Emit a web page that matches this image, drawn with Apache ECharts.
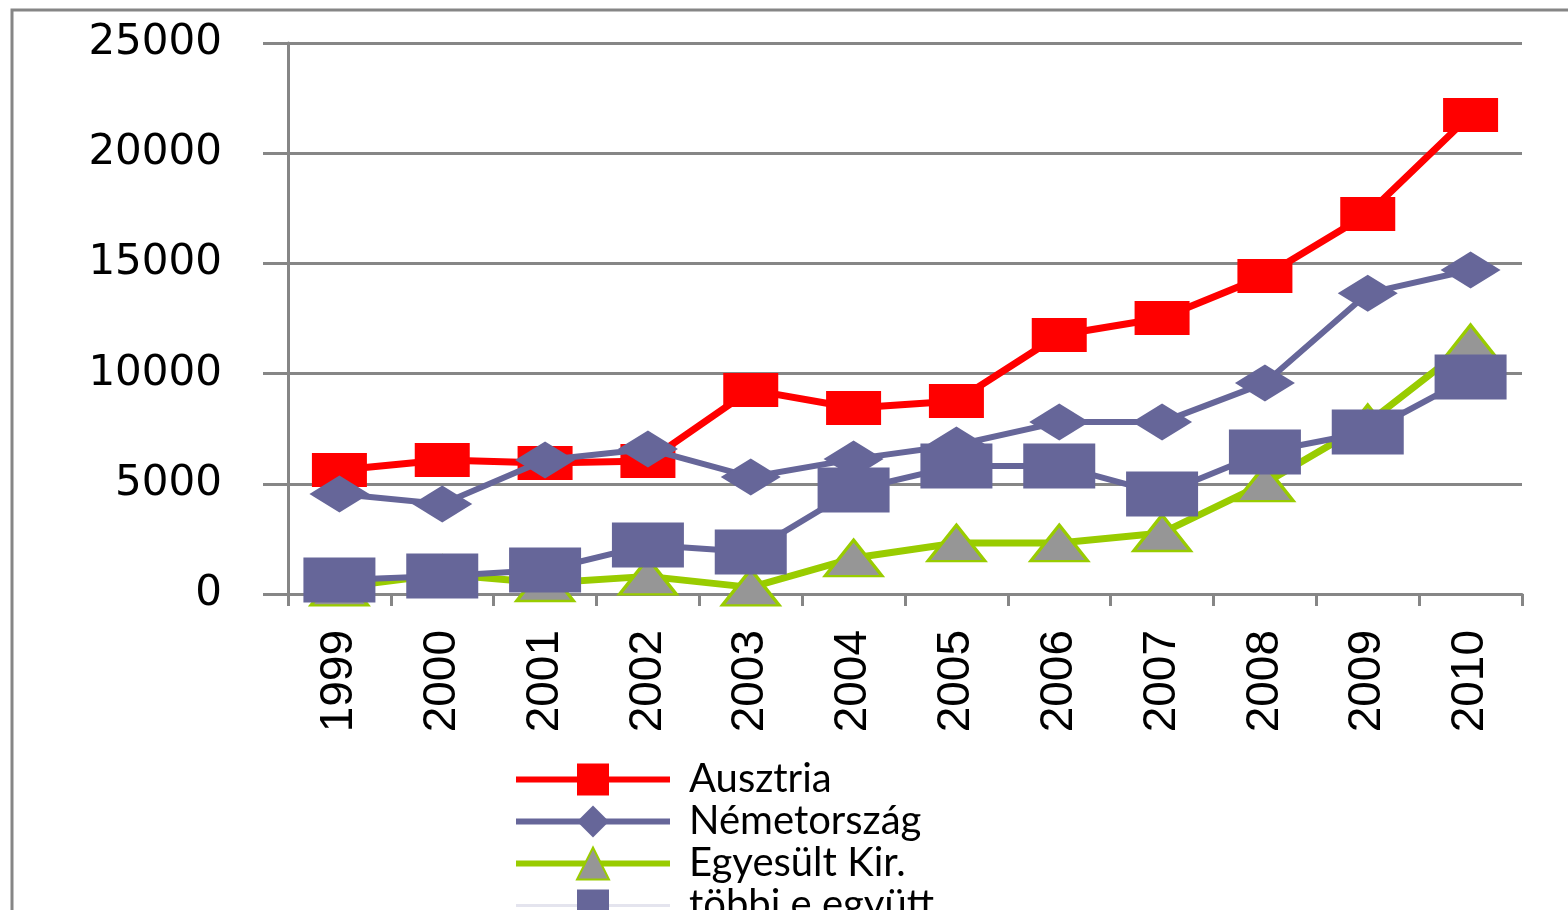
<!DOCTYPE html>
<html>
<head>
<meta charset="utf-8">
<script src="https://cdn.jsdelivr.net/npm/echarts@6/dist/echarts.min.js"></script>
<style>
  html, body { margin: 0; padding: 0; background: #fff; }
  #chart { width: 1568px; height: 910px; }
</style>
</head>
<body>
<div id="chart"></div>
<script>
var years = ['1999', '2000', '2001', '2002', '2003', '2004', '2005', '2006', '2007', '2008', '2009', '2010']
var ausztria = [5630, 6080, 5940, 6030, 9260, 8440, 8760, 11750, 12520, 14430, 17240, 21730]
var nemetorszag = [4540, 4080, 6080, 6580, 5310, 6120, 6760, 7800, 7800, 9570, 13650, 14700]
var egyesultKir = [300, 900, 500, 800, 300, 1630, 2310, 2310, 2770, 5030, 7760, 11390]
var tobbiEgyutt = [640, 820, 1090, 2220, 1910, 4720, 5810, 5810, 4540, 6440, 7350, 9850]

var gray = '#868686'
var chart = echarts.init(document.getElementById('chart'))

chart.setOption({
  animation: false,
  graphic: [{
    type: 'rect',
    shape: { x: 12, y: 10, width: 1700, height: 1000 },
    style: { fill: 'none', stroke: gray, lineWidth: 3 }
  }],
  legend: {
    orient: 'vertical',
    left: 508,
    top: 754,
    height: 400,
    itemWidth: 154,
    itemHeight: 40,
    itemGap: 1,
    textStyle: {
      fontFamily: 'Lato',
      fontSize: 40,
      color: '#000',
      lineHeight: 41,
      padding: [0, 0, 0, 14]
    },
    data: [
      { name: 'Ausztria', lineStyle: { width: 6 } },
      { name: 'Németország', lineStyle: { width: 6 } },
      { name: 'Egyesült Kir.', lineStyle: { width: 6 } },
      { name: 'többi e együtt', lineStyle: { width: 3, color: '#e4e4ee' } }
    ]
  },
  grid: {
    left: 288,
    right: 46,
    top: 43,
    bottom: 316
  },
  xAxis: {
    type: 'category',
    data: years,
    axisLine: { lineStyle: { color: gray, width: 3 } },
    axisTick: { show: true, length: 12, lineStyle: { color: gray, width: 3 } },
    axisLabel: {
      rotate: 90,
      margin: 36,
      color: '#000',
      fontFamily: 'Liberation Sans Narrow, Liberation Sans',
      fontSize: 46
    }
  },
  yAxis: {
    type: 'value',
    min: 0,
    max: 25000,
    interval: 5000,
    axisLine: { show: true, lineStyle: { color: gray, width: 3 } },
    axisTick: { show: true, length: 25, lineStyle: { color: gray, width: 3 } },
    axisLabel: {
      margin: 66,
      color: '#000',
      fontFamily: 'DejaVu Sans',
      fontSize: 42,
      formatter: function(v) { return String(v) }
    },
    splitLine: { lineStyle: { color: gray, width: 3 } }
  },
  series: [{
    name: 'Ausztria',
    type: 'line',
    data: ausztria,
    symbol: 'rect',
    symbolSize: [55, 34],
    lineStyle: { color: '#FF0000', width: 7 },
    itemStyle: { color: '#FF0000' },
    z: 4
  }, {
    name: 'Németország',
    type: 'line',
    data: nemetorszag,
    symbol: 'diamond',
    symbolSize: [60, 37],
    lineStyle: { color: '#666699', width: 6 },
    itemStyle: { color: '#666699' },
    z: 5
  }, {
    name: 'Egyesült Kir.',
    type: 'line',
    data: egyesultKir,
    symbol: 'triangle',
    symbolSize: [57, 36],
    lineStyle: { color: '#99CC00', width: 7 },
    itemStyle: { color: '#969696', borderColor: '#99CC00', borderWidth: 3 },
    z: 6
  }, {
    name: 'többi e együtt',
    type: 'line',
    data: tobbiEgyutt,
    symbol: 'rect',
    symbolSize: [72, 45],
    lineStyle: { color: '#666699', width: 6 },
    itemStyle: { color: '#666699' },
    z: 7
  }]
})
</script>
</body>
</html>
